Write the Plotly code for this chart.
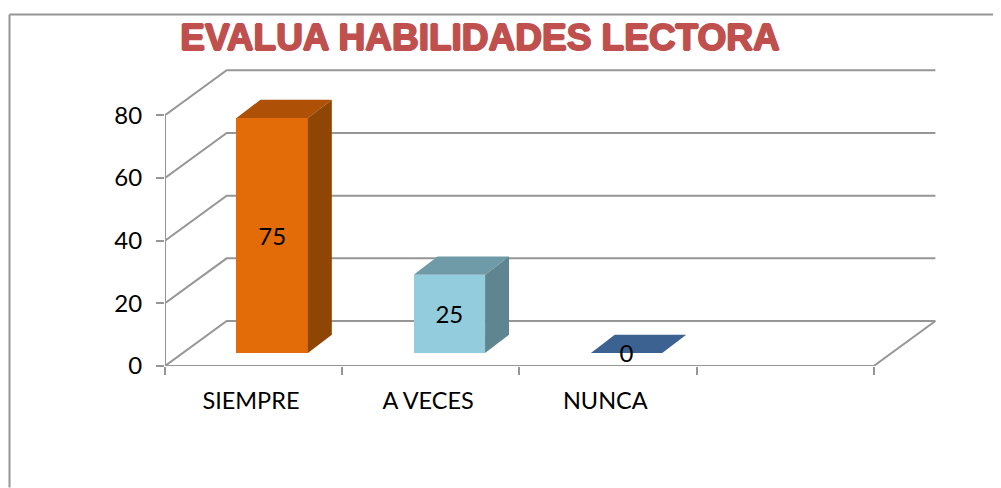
import plotly.graph_objects as go

# Data
categories = ["SIEMPRE", "A VECES", "NUNCA"]
values = [75, 25, 0]
y_ticks = [0, 20, 40, 60, 80]
title_text = "EVALUA HABILIDADES LECTORA"

# Styles / oblique projection (in axis units)
front_colors = ["#E36C09", "#93CDDD", "#3C6291"]
top_colors = ["#AE5107", "#6F9BA9", "#3C6291"]
side_colors = ["#8F4504", "#5F8590", "#3C6291"]
GRID = "#969696"
FONT = "Lato, 'Open Sans', sans-serif"
WALL_DX, WALL_DY = 0.348, 14.34      # floor depth
BAR_DX, BAR_DY = 0.135, 5.8          # bar depth
BAR_X, BAR_W, BAR_BASE = 0.605, 0.403, 4.14
LABEL_SHIFT = -1.1                   # optical correction for the value labels
N_SLOTS = 4

# The page body has an 8px margin, so the figure sits at (8, 8) in the window
OFF = 8
W, H = 1001 - OFF, 488 - OFF
L, R, T, B = 164.5 - OFF, 940 - OFF, 60 - OFF, 366.3 - OFF
x_max = (R - L) / 177.3
y_max = (B - T) / 3.1375
FRAME_X, FRAME_Y = 8.9 - OFF, 14.5 - OFF

fig = go.Figure()

# Wall, floor and axis lines
gx, gy = [], []
for v in y_ticks:
    gx += [0, WALL_DX, N_SLOTS + WALL_DX, None]
    gy += [v, v + WALL_DY, v + WALL_DY, None]
gx += [0, 0, None, 0, N_SLOTS, N_SLOTS + WALL_DX]
gy += [y_ticks[0], y_ticks[-1], None, 0, 0, WALL_DY]
fig.add_trace(go.Scatter(x=gx, y=gy, mode="lines", line=dict(color=GRID, width=2),
                         hoverinfo="skip", showlegend=False, zorder=-1, cliponaxis=False))

# Bars: front faces
xs = [i + BAR_X for i in range(len(values))]
fig.add_trace(go.Bar(x=xs, y=values, base=BAR_BASE, width=BAR_W, marker=dict(color=front_colors, line_width=0),
                     showlegend=False, zorder=1))

# Bars: top and side faces
for i, v in enumerate(values):
    x0 = xs[i] - BAR_W / 2
    x1 = xs[i] + BAR_W / 2
    y0 = BAR_BASE
    y1 = BAR_BASE + v
    fig.add_trace(go.Scatter(x=[x0, x1, x1 + BAR_DX, x0 + BAR_DX, x0],
                             y=[y1, y1, y1 + BAR_DY, y1 + BAR_DY, y1],
                             fill="toself", fillcolor=top_colors[i], mode="none",
                             hoverinfo="skip", showlegend=False, zorder=2))
    fig.add_trace(go.Scatter(x=[x1, x1 + BAR_DX, x1 + BAR_DX, x1, x1],
                             y=[y0, y0 + BAR_DY, y1 + BAR_DY, y1, y0],
                             fill="toself", fillcolor=side_colors[i], mode="none",
                             hoverinfo="skip", showlegend=False, zorder=2))

# Value labels
fig.add_trace(go.Scatter(x=xs, y=[BAR_BASE + v / 2 + LABEL_SHIFT for v in values], mode="text",
                         text=[str(v) for v in values], textposition="middle center",
                         textfont=dict(family=FONT, size=24, color="#000000"),
                         hoverinfo="skip", showlegend=False, zorder=3, cliponaxis=False))

fig.update_layout(
    width=W, height=H, autosize=False,
    margin=dict(l=L, r=W - R, t=T, b=H - B, autoexpand=False),
    paper_bgcolor="white", plot_bgcolor="rgba(0,0,0,0)",
    showlegend=False,
    bargap=0,
    title=dict(text=title_text, x=(480 - OFF) / W, xanchor="center", xref="container",
               y=1 - (37 - OFF) / H, yanchor="middle", yref="container",
               font=dict(family="Liberation Sans, Arial, sans-serif", size=37, color="#C0504D",
                         weight="bold",
                         shadow="1px 0 0 #C0504D, -1px 0 0 #C0504D, 0 1px 0 #C0504D, 0 -1px 0 #C0504D")),
    xaxis=dict(range=[0, x_max], showgrid=False, zeroline=False, showline=False,
               tickmode="array", tickvals=[i + 0.485 for i in range(len(categories))], ticktext=categories,
               ticks="", ticklabelstandoff=18,
               tickfont=dict(family=FONT, size=23.5, color="#000000"),
               minor=dict(tickmode="array", tickvals=list(range(N_SLOTS + 1)), ticks="outside",
                          ticklen=8, tickwidth=2, tickcolor=GRID, showgrid=False)),
    yaxis=dict(range=[0, y_max], showgrid=False, zeroline=False, showline=False,
               tickmode="array", tickvals=y_ticks, ticks="outside", ticklen=8, tickwidth=2,
               tickcolor=GRID, ticklabelstandoff=9,
               tickfont=dict(family=FONT, size=24, color="#000000")),
    shapes=[dict(type="line", xref="paper", yref="paper",
                 x0=(FRAME_X - L) / (R - L), x1=(FRAME_X - L) / (R - L),
                 y0=(B - H) / (B - T), y1=(B - FRAME_Y) / (B - T),
                 line=dict(color=GRID, width=2)),
            dict(type="line", xref="paper", yref="paper",
                 x0=(FRAME_X - L) / (R - L), x1=(W - L) / (R - L),
                 y0=(B - FRAME_Y) / (B - T), y1=(B - FRAME_Y) / (B - T),
                 line=dict(color=GRID, width=2))],
)

fig.write_html("out.html")
